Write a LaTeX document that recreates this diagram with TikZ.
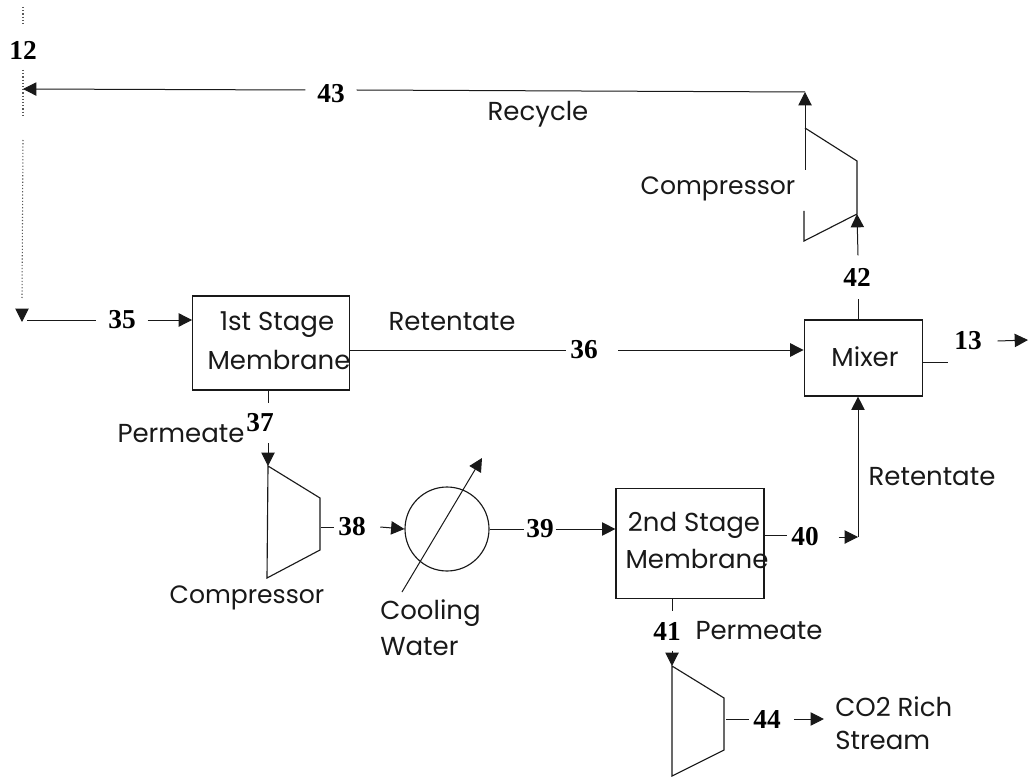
\documentclass[tikz,border=0pt]{standalone}
\usepackage{fontspec}
\setmainfont{Poppins}
\newfontfamily\numfont{Liberation Serif}[Scale=1]
\usetikzlibrary{arrows.meta}
\tikzset{
  x=0.75pt,y=-0.75pt,
  flow/.style={draw=black!90,line width=0.75pt},
  arr/.style={flow,-{Triangle[length=10pt,width=10pt]}},
  shape line/.style={draw=black!90,line width=0.85pt},
  procbox/.style={draw=black!90,line width=0.9pt,rectangle,inner sep=0pt},
  txt/.style={font=\fontsize{19.5}{21}\selectfont,inner sep=0pt,text=black!90},
  compr/.style={txt,font=\fontsize{18.8}{21}\selectfont},
  num/.style={font=\numfont\bfseries\fontsize{20.5}{21}\selectfont,inner sep=0pt,text=black,minimum height=16pt},
  dots/.style={draw=black!65,line width=0.8pt,dash pattern=on 0.9pt off 1.5pt},
}
\begin{document}
\begin{tikzpicture}
\useasboundingbox[fill=white] (0,0) rectangle (1030,777);
% boxes
\node[procbox,minimum width=117.5pt,minimum height=70.5pt] (m1) at (271,343) {};
\node[procbox,minimum width=111pt,minimum height=83pt] (m2) at (690,543.5) {};
\node[procbox,minimum width=89pt,minimum height=57pt] (mix) at (863.5,358) {};
\node[txt] (m1a) at (277,325) {1st Stage};
\node[txt] (m1b) at (279,360) {Membrane};
\node[txt] (m2a) at (694,525) {2nd Stage};
\node[txt] (m2b) at (697,559) {Membrane};
\node[txt] (mixt) at (865,357) {Mixer};
% compressors
\coordinate (c1a) at (805,128); \coordinate (c1b) at (857,161); \coordinate (c1c) at (857,214);
\coordinate (c1d) at (804,241); \coordinate (c1e) at (804,211); \coordinate (c1f) at (805,170);
\draw[shape line] (c1e) -- (c1d) -- (c1c) -- (c1b) -- (c1a);
\coordinate (c2a) at (268,466); \coordinate (c2b) at (320,498); \coordinate (c2c) at (320,550); \coordinate (c2d) at (267,578);
\draw[shape line] (c2a) -- (c2b) -- (c2c) -- (c2d) -- cycle;
\coordinate (c3a) at (672,666); \coordinate (c3b) at (724,698); \coordinate (c3c) at (724,750); \coordinate (c3d) at (672,776);
\draw[shape line] (c3a) -- (c3b) -- (c3c) -- (c3d) -- cycle;
% cooler
\node[draw=black!90,line width=0.85pt,circle,minimum size=63pt,inner sep=0pt] (hx) at (447,529) {};
\coordinate (cwa) at (402,592); \coordinate (cwb) at (482,458);
\draw[arr] (cwa) -- (cwb);
% numbers
\node[num] (n12) at (23,50) {12};
\node[num,minimum width=38pt] (n43) at (331,94) {43};
\node[num,minimum width=38pt] (n35) at (122,320) {35};
\node[num,minimum width=27pt] (n36) at (584,350) {36};
\node[num,minimum width=20pt,minimum height=30pt] (n37) at (260,423) {37};
\node[num,minimum width=26pt] (n38) at (352,527) {38};
\node[num,minimum width=23pt] (n39) at (540,529) {39};
\node[num,minimum width=26pt] (n40) at (805,537) {40};
\node[num,minimum width=20pt,minimum height=29pt] (n41) at (667,631) {41};
\node[num,minimum width=21pt,minimum height=32pt] (n42) at (857,277) {42};
\node[num,minimum width=30pt] (n13) at (968,341) {13};
\node[num,minimum width=26pt] (n44) at (767,719) {44};
% texts
\node[txt] (trec) at (538,114) {Recycle};
\node[compr] (tc1) at (718,189) {Compressor};
\node[compr] (tc2) at (247,598) {Compressor};
\node[txt] (tret1) at (452,322) {Retentate};
\node[txt] (tret2) at (932,477) {Retentate};
\node[txt] (tp1) at (181,434) {Permeate};
\node[txt] (tp2) at (759,631) {Permeate};
\node[txt,anchor=west] (tcool) at (380,613) {Cooling};
\node[txt,anchor=west] (twat) at (380,647) {Water};
\node[txt,anchor=west] (tco) at (835,707) {CO2 Rich};
\node[txt,anchor=west] (tst) at (835,740) {Stream};
% free ends
\coordinate (l1) at (23,89); \coordinate (l2) at (805,92);
\coordinate (d0) at (23,7); \coordinate (d1) at (23,25); \coordinate (d2) at (23,70);
\coordinate (d3) at (23,115); \coordinate (d4) at (23,140); \coordinate (d5) at (22,322);
\coordinate (e13) at (1028,340); \coordinate (j40) at (858,537);
% dotted feed
\draw[dots] (d0) -- (d1);
\draw[dots] (d2) -- (d3);
\draw[dots] (d4) -- (22,298);
\draw[arr] (22,309) -- (d5);
% connectors
\draw[arr] ([yshift=3pt]n43.west) -- (l1);
\draw[flow] ([yshift=3pt]n43.east) -- (l2);
\draw[arr] (c1f) -- (l2);
\draw[flow] (d5) ++(5,-2) -- (n35.west);
\draw[arr] (n35.east) -- (n35.east -| m1.west);
\draw[flow] (m1.east |- n36.west) -- (n36.west);
\draw[arr] ([xshift=12pt]n36.east) -- (n36.east -| mix.west);
\draw[flow] (mix.north -| n42.south) ++(1,0) -- ([xshift=0.75pt]n42.south);
\draw[arr] ([xshift=0.75pt]n42.north) -- (c1c);
\draw[flow] ([yshift=-3pt]mix.east) -- ([yshift=-3pt]mix.east -| n13.west);
\draw[arr] ([xshift=7pt]n13.east) -- (e13);
\draw[flow] (m1.south -| c2a) -- (c2a |- n37.north);
\draw[arr] (c2a |- n37.south) -- (c2a);
\draw[flow] (c2b |- n38.west) ++(1,0) -- (n38.west);
\draw[arr] ([xshift=8pt]n38.east) -- (hx.west);
\draw[flow] (hx.east) -- (n39.west);
\draw[arr] (n39.east) -- (n39.east -| m2.west);
\draw[flow] ([yshift=1.5pt]m2.east |- n40.west) -- ([yshift=1.5pt]n40.west);
\draw[arr] ([xshift=12pt]n40.east) -- (j40);
\draw[arr] (j40) -- (j40 |- mix.south);
\draw[flow] (m2.south -| c3a) -- (c3a |- n41.north);
\draw[arr] (c3a |- n41.south) -- (c3a);
\draw[flow] (c3b |- n44.west) ++(2,0) -- (n44.west);
\draw[arr] ([xshift=7pt]n44.east) -- ++(30,0);
\end{tikzpicture}
\end{document}
